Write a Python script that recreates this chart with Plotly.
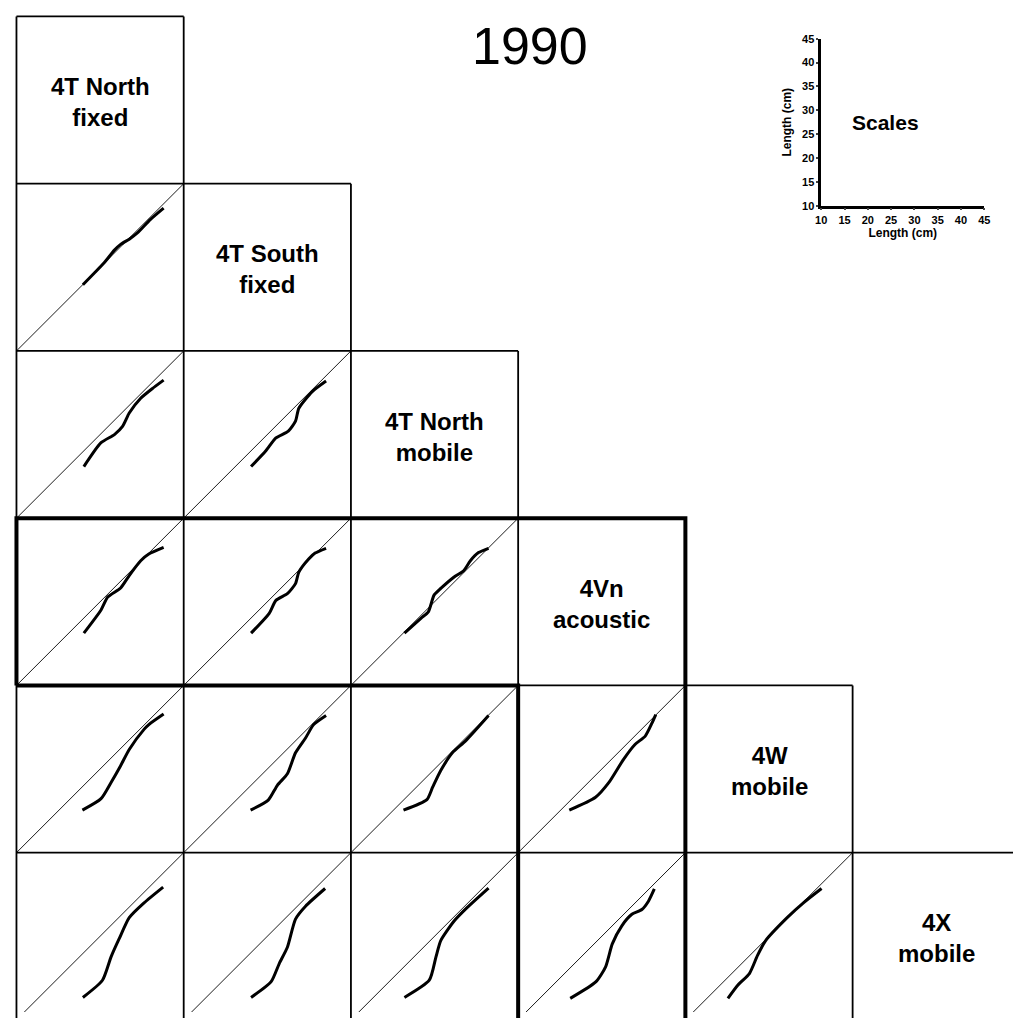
import plotly.graph_objects as go

# ---------------- data ----------------
title_text = "1990"
groups = ["4T North<br>fixed", "4T South<br>fixed", "4T North<br>mobile",
          "4Vn<br>acoustic", "4W<br>mobile", "4X<br>mobile"]
axis_range = [10, 45]
scale_ticks = [10, 15, 20, 25, 30, 35, 40, 45]
scale_title = "Length (cm)"
scale_label = "Scales"

# Q-Q curves (x = column group quantiles, y = row group quantiles), cm
r2c1_x = [23.9, 26.3, 28.4, 30.5, 31.8, 33.6, 35.3, 38.0, 40.8]
r2c1_y = [23.85, 26.3, 28.5, 31.1, 32.3, 33.4, 34.7, 37.5, 39.9]

r3c1_x = [24.1, 27.7, 30.5, 32.2, 33.6, 36.0, 38.4, 40.8]
r3c1_y = [20.8, 25.8, 27.5, 29.2, 32.0, 35.1, 37.1, 38.9]
r3c2_x = [24.1, 27.2, 29.3, 31.9, 33.4, 34.1, 36.9, 39.8]
r3c2_y = [20.8, 24.1, 26.8, 28.2, 30.3, 33.0, 36.5, 38.7]

r4c1_x = [24.1, 27.7, 29.1, 31.8, 33.6, 36.0, 37.7, 40.8]
r4c1_y = [20.95, 25.8, 28.5, 30.4, 33.0, 36.1, 37.5, 38.9]
r4c2_x = [24.1, 27.9, 29.3, 31.7, 33.4, 34.1, 36.2, 37.5, 39.8]
r4c2_y = [20.95, 25.1, 27.8, 29.2, 31.3, 33.7, 36.5, 37.7, 38.7]
r4c3_x = [21.2, 24.7, 26.2, 27.4, 28.8, 31.6, 33.6, 35.0, 36.7, 38.8]
r4c3_y = [20.95, 24.1, 25.4, 28.9, 30.3, 32.7, 34.0, 36.1, 37.8, 38.7]

r5c1_x = [23.8, 27.7, 29.8, 31.8, 33.6, 36.7, 37.7, 40.8]
r5c1_y = [18.9, 21.3, 24.7, 28.2, 31.6, 35.8, 36.8, 39.0]
r5c2_x = [24.0, 27.7, 29.6, 31.7, 33.4, 35.5, 37.2, 39.8]
r5c2_y = [18.9, 21.0, 24.1, 26.5, 30.9, 34.0, 36.8, 38.7]
r5c3_x = [21.0, 25.9, 27.1, 28.8, 31.4, 34.0, 38.8]
r5c3_y = [18.9, 21.1, 23.7, 27.2, 31.1, 33.4, 38.7]
r5c4_x = [20.7, 26.2, 29.0, 32.1, 34.5, 36.6, 38.0, 38.8]
r5c4_y = [18.9, 21.6, 24.7, 29.6, 32.7, 34.4, 37.1, 38.9]

r6c1_x = [23.9, 28.0, 29.8, 31.5, 33.6, 36.7, 40.7]
r6c1_y = [14.7, 18.3, 23.2, 27.0, 31.4, 34.5, 37.8]
r6c2_x = [24.1, 28.3, 30.0, 31.7, 33.4, 35.5, 39.6]
r6c2_y = [14.7, 18.0, 21.8, 25.2, 31.1, 33.8, 37.5]
r6c3_x = [21.2, 26.4, 27.8, 28.8, 31.6, 34.3, 38.8]
r6c3_y = [14.7, 18.3, 23.2, 26.6, 30.7, 33.5, 37.6]
r6c4_x = [20.9, 26.3, 28.3, 29.7, 31.7, 33.8, 35.9, 37.3, 38.5]
r6c4_y = [14.5, 18.0, 21.1, 25.9, 29.7, 32.1, 33.1, 34.9, 37.4]
r6c5_x = [18.9, 21.0, 23.4, 25.1, 26.8, 31.3, 34.7, 38.5]
r6c5_y = [14.5, 17.3, 19.7, 23.5, 26.6, 31.4, 34.5, 37.5]

curves = {
    (1, 0): (r2c1_x, r2c1_y),
    (2, 0): (r3c1_x, r3c1_y), (2, 1): (r3c2_x, r3c2_y),
    (3, 0): (r4c1_x, r4c1_y), (3, 1): (r4c2_x, r4c2_y), (3, 2): (r4c3_x, r4c3_y),
    (4, 0): (r5c1_x, r5c1_y), (4, 1): (r5c2_x, r5c2_y), (4, 2): (r5c3_x, r5c3_y),
    (4, 3): (r5c4_x, r5c4_y),
    (5, 0): (r6c1_x, r6c1_y), (5, 1): (r6c2_x, r6c2_y), (5, 2): (r6c3_x, r6c3_y),
    (5, 3): (r6c4_x, r6c4_y), (5, 4): (r6c5_x, r6c5_y),
}
highlight = 3  # index of 4Vn acoustic

# ---------------- layout geometry (page pixels; body keeps its 8px margin) ----------------
PAGE_W, PAGE_H = 1021, 1026
M = 8
W, H = PAGE_W - 2 * M, PAGE_H - 2 * M
CELL = 169.25
OX, OY = 10.5, 10.5
N = len(groups)
FONT = "Liberation Sans, Arial, Helvetica, sans-serif"
THIN, THICK = 1.8, 4


def X(p):
    return (p - M) / W


def Y(p):
    return 1 - (p - M) / H


def cell_box(r, c):
    x0 = OX + c * CELL
    y0 = OY + r * CELL
    return x0, y0, x0 + CELL, y0 + CELL


fig = go.Figure()
lay = {}
span = axis_range[1] - axis_range[0]
k = 0
for (r, c), (xs, ys) in curves.items():
    k += 1
    sfx = "" if k == 1 else str(k)
    x0, y0, x1, y1 = cell_box(r, c)
    # clip the cell to the drawable area while keeping the data scale
    cx0, cx1 = max(x0, M), min(x1, M + W)
    cy0, cy1 = max(y0, M), min(y1, M + H)
    xr = [axis_range[0] + (cx0 - x0) * span / CELL, axis_range[1] - (x1 - cx1) * span / CELL]
    yr = [axis_range[0] + (y1 - cy1) * span / CELL, axis_range[1] - (cy0 - y0) * span / CELL]
    axcommon = dict(visible=False, showgrid=False, zeroline=False, fixedrange=True)
    lay["xaxis" + sfx] = dict(domain=[X(cx0), X(cx1)], range=xr, anchor="y" + sfx, **axcommon)
    lay["yaxis" + sfx] = dict(domain=[Y(cy1), Y(cy0)], range=yr, anchor="x" + sfx, **axcommon)
    fig.add_trace(go.Scatter(x=axis_range, y=axis_range, mode="lines",
                             line=dict(color="black", width=0.9),
                             xaxis="x" + sfx, yaxis="y" + sfx,
                             showlegend=False, hoverinfo="skip"))
    fig.add_trace(go.Scatter(x=xs, y=ys, mode="lines",
                             line=dict(color="black", width=3, shape="spline",
                                       smoothing=0.6),
                             xaxis="x" + sfx, yaxis="y" + sfx,
                             showlegend=False))

# scale inset axis
k += 1
sfx = str(k)
for ax, dom, stand in (("xaxis", [X(825), X(990)], 3), ("yaxis", [Y(202), Y(33)], 8)):
    lay[ax + sfx] = dict(domain=dom, anchor=("y" if ax == "xaxis" else "x") + sfx,
                         range=axis_range, tickvals=scale_ticks, ticks="outside",
                         ticklen=2, tickwidth=1.5, showline=True, linewidth=2.5,
                         linecolor="black", showgrid=False, zeroline=False,
                         fixedrange=True,
                         tickfont=dict(family=FONT, size=11, color="black", weight="bold"),
                         title=dict(text=scale_title, standoff=stand,
                                    font=dict(family=FONT, size=12, color="black",
                                              weight="bold")))
fig.add_trace(go.Scatter(x=[None], y=[None], mode="markers", xaxis="x" + sfx,
                         yaxis="y" + sfx, showlegend=False))

# grid borders (thin)
RIGHT_EDGE = M + W + 10
BOTTOM_EDGE = M + H + 10
shapes = []
for r in range(N):
    y = OY + r * CELL
    xend = RIGHT_EDGE if r == N - 1 else OX + (r + 1) * CELL
    shapes.append(dict(type="line", xref="paper", yref="paper",
                       x0=X(OX), x1=X(xend), y0=Y(y), y1=Y(y),
                       line=dict(color="black", width=THIN)))
for c in range(N):
    x = OX + c * CELL
    ystart = OY + max(c - 1, 0) * CELL
    shapes.append(dict(type="line", xref="paper", yref="paper",
                       x0=X(x), x1=X(x), y0=Y(ystart), y1=Y(BOTTOM_EDGE),
                       line=dict(color="black", width=THIN)))
# thick outline around the 4Vn row and column
h = highlight
rx0, ry0, _, ry1 = cell_box(h, 0)
cx0, _, cx1, _ = cell_box(h, h)
for pts in ([(rx0, ry1), (rx0, ry0), (cx1, ry0), (cx1, BOTTOM_EDGE)],
            [(rx0, ry1), (cx0, ry1), (cx0, BOTTOM_EDGE)]):
    shapes.append(dict(type="path", xref="paper", yref="paper",
                       path="M " + " L ".join(f"{X(a):.5f},{Y(b):.5f}" for a, b in pts),
                       line=dict(color="black", width=THICK)))

annotations = []
for i, g in enumerate(groups):
    x0, y0, x1, y1 = cell_box(i, i)
    annotations.append(dict(text="<b>" + g + "</b>", xref="paper", yref="paper",
                            x=X((x0 + x1) / 2), y=Y((y0 + y1) / 2 + 2),
                            showarrow=False, xanchor="center", yanchor="middle",
                            font=dict(family=FONT, size=24, color="black")))
annotations.append(dict(text=title_text, xref="paper", yref="paper",
                        x=X(530), y=Y(40), showarrow=False,
                        xanchor="center", yanchor="middle",
                        font=dict(family=FONT, size=52, color="black")))
annotations.append(dict(text="<b>" + scale_label + "</b>", xref="paper", yref="paper",
                        x=X(890), y=Y(118), showarrow=False,
                        xanchor="center", yanchor="middle",
                        font=dict(family=FONT, size=21, color="black")))

fig.update_layout(width=W, height=H, margin=dict(l=0, r=0, t=0, b=0),
                  paper_bgcolor="white", plot_bgcolor="rgba(0,0,0,0)",
                  shapes=shapes, annotations=annotations, **lay)

fig.write_html("out.html", config={"displayModeBar": False})
